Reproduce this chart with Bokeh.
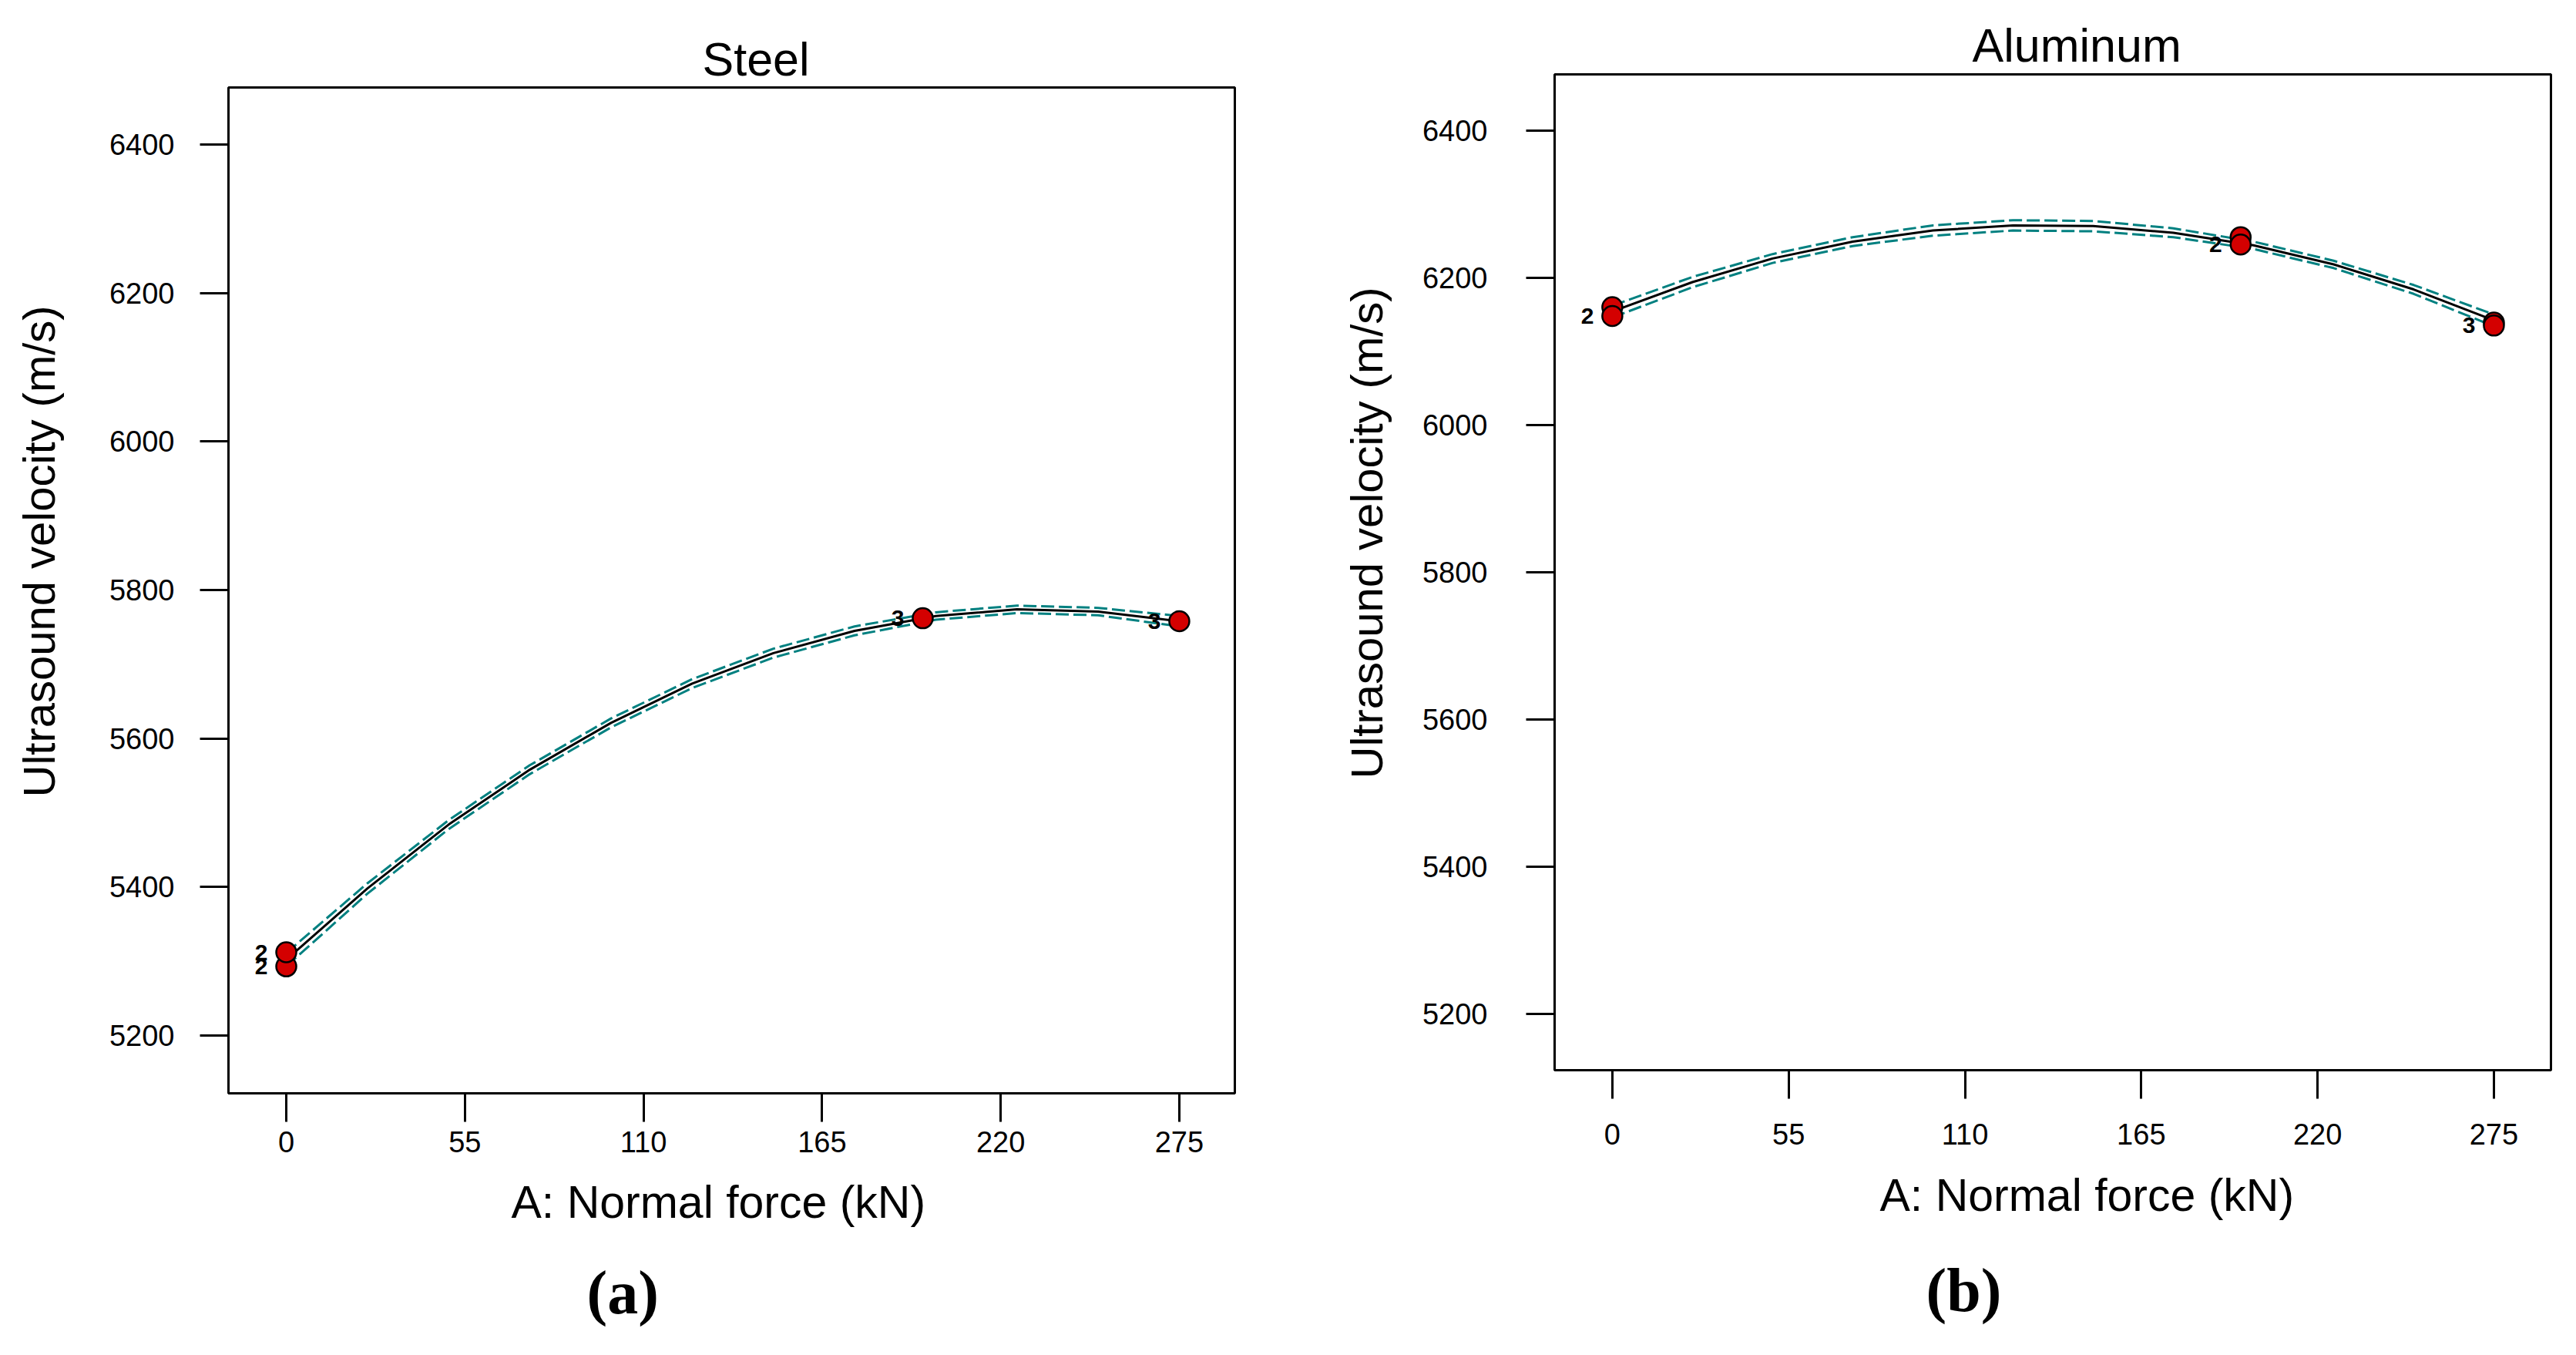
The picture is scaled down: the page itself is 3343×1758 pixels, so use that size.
from bokeh.plotting import figure
from bokeh.models import FixedTicker, Range1d, Title
from bokeh.layouts import row
from bokeh.embed import file_html
from bokeh.resources import INLINE
from bokeh.core.properties import value

# ---------------- data ----------------
force_ticks = [0, 55, 110, 165, 220, 275]
velocity_ticks = [5200, 5400, 5600, 5800, 6000, 6200, 6400]
curve_force = [0, 25, 50, 75, 100, 125, 150, 175, 200, 225, 250, 275]

# Steel
steel_force = [0, 0, 196, 275]
steel_velocity = [5293, 5312, 5762, 5758]
steel_count = ["2", "2", "3", "3"]
steel_fit = [5302, 5398, 5484, 5558, 5621, 5674, 5715, 5745, 5765, 5774, 5771, 5758]
steel_upper = [5311, 5405, 5490, 5564, 5627, 5680, 5721, 5751, 5770, 5779, 5776, 5765]
steel_lower = [5293, 5391, 5478, 5552, 5615, 5668, 5709, 5739, 5760, 5769, 5766, 5751]

# Aluminum
alu_force = [0, 0, 196, 196, 275, 275]
alu_velocity = [6160, 6148, 6255, 6245, 6139, 6135]
alu_count = ["", "2", "", "2", "", "3"]
alu_fit = [6154, 6194, 6226, 6249, 6264, 6271, 6270, 6261, 6244, 6218, 6184, 6142]
alu_upper = [6162, 6201, 6232, 6255, 6271, 6278, 6277, 6267, 6249, 6223, 6190, 6150]
alu_lower = [6146, 6187, 6220, 6243, 6257, 6264, 6263, 6255, 6239, 6213, 6178, 6134]

x_title = "A: Normal force (kN)"
y_title = "Ultrasound velocity (m/s)"

SANS = "Liberation Sans"
SERIF = "Liberation Serif"
TEAL = "#008080"
RED = "#d40000"


def make_panel(title, letter, px, py, pn, fit, upper, lower, lay):
    p = figure(width=lay["w"], height=lay["h"], output_backend="svg",
               toolbar_location=None,
               x_range=Range1d(*lay["xr"]), y_range=Range1d(*lay["yr"]),
               min_border_left=lay["bl"], min_border_right=lay["br"],
               min_border_top=lay["bt"], min_border_bottom=lay["bb"])
    p.margin = (0, 0, 0, lay["ml"])
    try:
        p.frame_align = False
    except Exception:
        pass
    p.background_fill_color = "white"
    p.border_fill_color = "white"
    p.outline_line_color = "black"
    p.outline_line_width = 3
    p.xgrid.visible = False
    p.ygrid.visible = False

    for ax, ticks, standoff in ((p.xaxis, force_ticks, lay["xs"]),
                                (p.yaxis, velocity_ticks, lay["ys"])):
        ax.ticker = FixedTicker(ticks=ticks)
        ax.axis_line_color = None
        ax.major_tick_out = 37
        ax.major_tick_in = 0
        ax.minor_tick_out = 0
        ax.minor_tick_in = 0
        ax.major_tick_line_width = 3
        ax.major_tick_line_color = "black"
        ax.major_label_text_font = SANS
        ax.major_label_text_font_size = "38px"
        ax.major_label_text_color = "black"
        ax.major_label_standoff = standoff

    # confidence bands + fitted curve
    p.line(curve_force, upper, line_color=TEAL, line_width=3, line_dash="17 6")
    p.line(curve_force, lower, line_color=TEAL, line_width=3, line_dash="17 6")
    p.line(curve_force, fit, line_color="black", line_width=3)

    # design points
    p.scatter(px, py, size=26, marker="circle", fill_color=RED,
              line_color="black", line_width=2.5)
    p.text(px, py, text=pn, x_offset=-24, text_align="right",
           text_baseline="middle", text_font=value(SANS),
           text_font_style="bold", text_font_size="30px", text_color="black")

    # plot title
    p.title.text = title
    p.title.align = "left"
    p.title.offset = lay["t_off"]
    p.title.standoff = lay["t_so"]
    p.title.text_font = SANS
    p.title.text_font_style = "normal"
    p.title.text_font_size = "61px"
    p.title.text_color = "black"

    # axis titles
    p.add_layout(Title(text=x_title, align="left", offset=lay["x_off"],
                       standoff=lay["x_so"], text_font=SANS,
                       text_font_style="normal", text_font_size="59px",
                       text_color="black"), "below")
    p.add_layout(Title(text="(" + letter + ")", align="left",
                       offset=lay["l_off"], standoff=lay["l_so"],
                       text_font=SERIF, text_font_style="bold",
                       text_font_size="80px", text_color="black"), "below")
    p.add_layout(Title(text=y_title, align="left", offset=lay["y_off"],
                       standoff=lay["y_so"], text_font=SANS,
                       text_font_style="normal", text_font_size="58px",
                       text_color="black"), "left")
    return p


left_layout = dict(w=1722, h=1750, ml=-50, xr=(-17.8, 292.1), yr=(5122, 6477),
                   bl=346, br=70, bt=113, bb=332, xs=12, ys=33,
                   t_off=615, t_so=5, x_off=367, x_so=54,
                   l_off=465, l_so=23, y_off=384, y_so=111)
right_layout = dict(w=1655, h=1750, ml=0, xr=(-18.0, 292.8), yr=(5124, 6476),
                    bl=345, br=17, bt=96, bb=362, xs=32, ys=50,
                    t_off=542, t_so=8, x_off=422, x_so=56,
                    l_off=482, l_so=33, y_off=378, y_so=73)

p1 = make_panel("Steel", "a", steel_force, steel_velocity, steel_count,
                steel_fit, steel_upper, steel_lower, left_layout)
p2 = make_panel("Aluminum", "b", alu_force, alu_velocity, alu_count,
                alu_fit, alu_upper, alu_lower, right_layout)

layout = row(p1, p2)
with open("out.html", "w") as f:
    f.write(file_html(layout, INLINE))
